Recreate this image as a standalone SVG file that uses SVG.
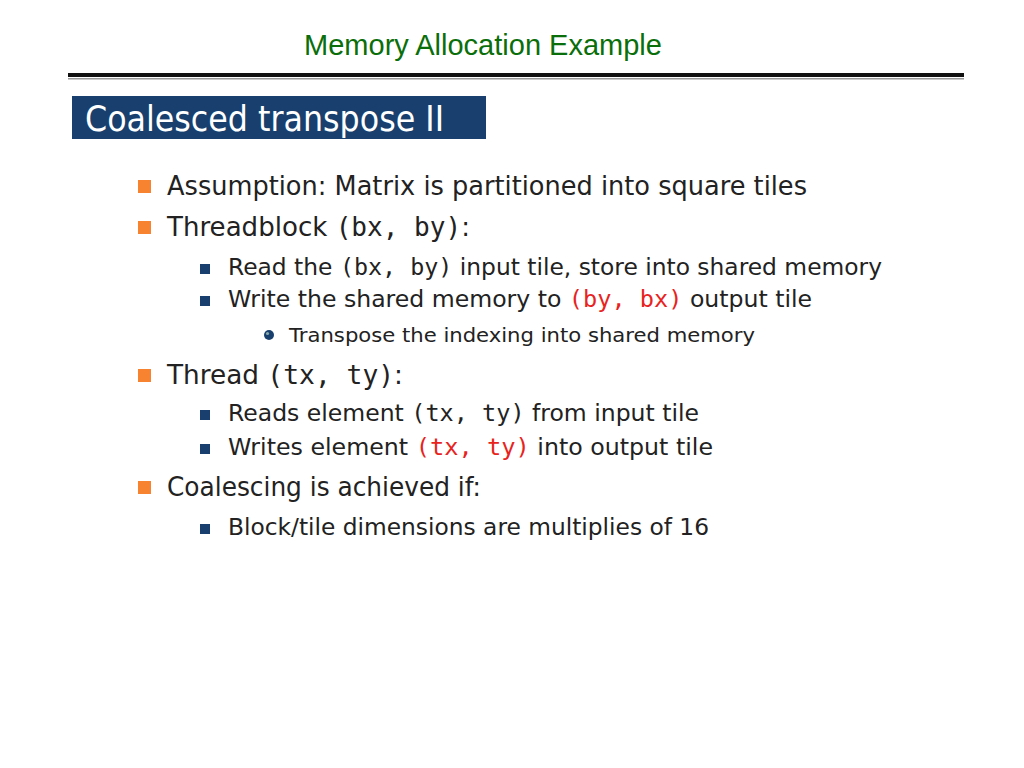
<svg xmlns="http://www.w3.org/2000/svg" width="1024" height="768" viewBox="0 0 1024 768">
<style>
.s{font-family:"DejaVu Sans","Liberation Sans",sans-serif;fill:#222}
.m{font-family:"DejaVu Sans Mono","Liberation Mono",monospace}
.r{fill:#e8231d}
.ob{fill:#f78230}
.bb{fill:#183f6e}
</style>
<rect width="1024" height="768" fill="#fff"/>
<text x="483" y="55" text-anchor="middle" font-family="Liberation Sans, Arial, sans-serif" font-size="29" fill="#0a6e0a">Memory Allocation Example</text>
<rect x="68" y="73" width="896" height="4" fill="#111"/>
<rect x="68" y="78" width="896" height="1.5" fill="#999"/>
<rect x="72" y="96" width="414" height="43" fill="#183f6e"/>
<text x="85" y="131" class="s" font-size="35" fill="#fff" style="fill:#fff" textLength="359" lengthAdjust="spacingAndGlyphs">Coalesced transpose II</text>
<g id="b1"><rect x="138" y="180" width="13" height="13" class="ob"/>
<text x="167" y="195" class="s" font-size="26" textLength="640" lengthAdjust="spacingAndGlyphs">Assumption: Matrix is partitioned into square tiles</text></g>
<g id="b2"><rect x="138" y="221" width="13" height="13" class="ob"/>
<text x="167" y="236" class="s" font-size="26" textLength="303" lengthAdjust="spacingAndGlyphs">Threadblock <tspan class="m">(bx, by)</tspan>:</text></g>
<g id="b21"><rect x="200" y="264" width="10" height="10" class="bb"/>
<text x="228" y="275" class="s" font-size="23" textLength="654" lengthAdjust="spacingAndGlyphs">Read the <tspan class="m">(bx, by)</tspan> input tile, store into shared memory</text></g>
<g id="b22"><rect x="200" y="296" width="10" height="10" class="bb"/>
<text x="228" y="307" class="s" font-size="23" textLength="584" lengthAdjust="spacingAndGlyphs">Write the shared memory to <tspan class="m r">(by, bx)</tspan> output tile</text></g>
<g id="b221"><circle cx="269" cy="335" r="5" fill="#183f6e"/><circle cx="267.5" cy="333.5" r="1.6" fill="#8aa"/>
<text x="289" y="342" class="s" font-size="20" textLength="466" lengthAdjust="spacingAndGlyphs">Transpose the indexing into shared memory</text></g>
<g id="b3"><rect x="138" y="369" width="13" height="13" class="ob"/>
<text x="167" y="384" class="s" font-size="26" textLength="236" lengthAdjust="spacingAndGlyphs">Thread <tspan class="m">(tx, ty)</tspan>:</text></g>
<g id="b31"><rect x="200" y="410" width="10" height="10" class="bb"/>
<text x="228" y="421" class="s" font-size="23" textLength="471" lengthAdjust="spacingAndGlyphs">Reads element <tspan class="m">(tx, ty)</tspan> from input tile</text></g>
<g id="b32"><rect x="200" y="444" width="10" height="10" class="bb"/>
<text x="228" y="455" class="s" font-size="23" textLength="485" lengthAdjust="spacingAndGlyphs">Writes element <tspan class="m r">(tx, ty)</tspan> into output tile</text></g>
<g id="b4"><rect x="138" y="481" width="13" height="13" class="ob"/>
<text x="167" y="496" class="s" font-size="26" textLength="314" lengthAdjust="spacingAndGlyphs">Coalescing is achieved if:</text></g>
<g id="b41"><rect x="200" y="524" width="10" height="10" class="bb"/>
<text x="228" y="535" class="s" font-size="23" textLength="481" lengthAdjust="spacingAndGlyphs">Block/tile dimensions are multiplies of 16</text></g>
<g id="connectors"/>
</svg>
